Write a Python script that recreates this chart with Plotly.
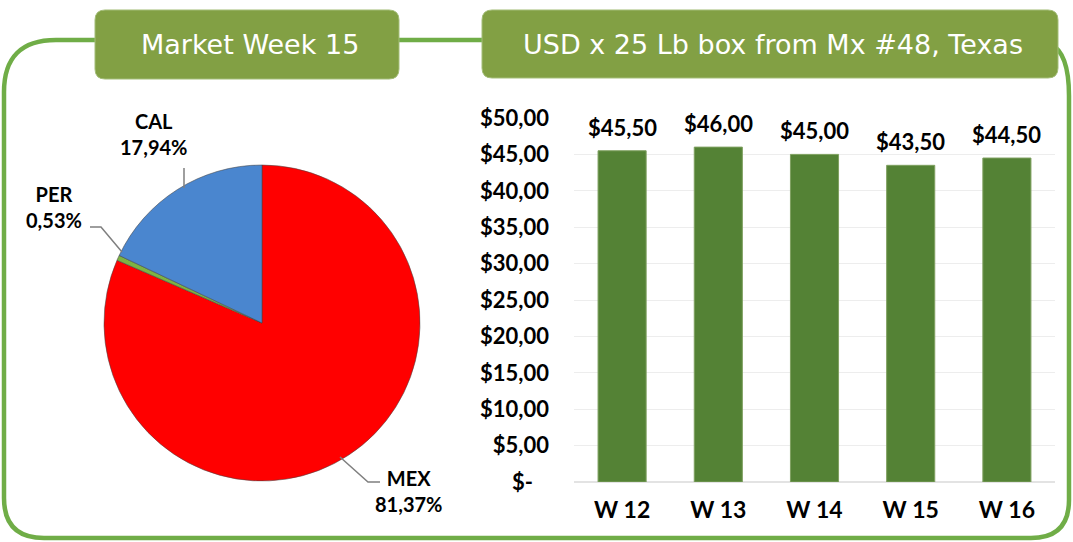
import plotly.graph_objects as go

# ---------------- data ----------------
pie_labels = ["MEX", "PER", "CAL"]
pie_values = [81.37, 0.53, 17.94]
pie_colors = ["#FF0000", "#7DB343", "#4A86CF"]

weeks = ["W 12", "W 13", "W 14", "W 15", "W 16"]
prices = [45.50, 46.00, 45.00, 43.50, 44.50]

y_tickvals = [0, 5, 10, 15, 20, 25, 30, 35, 40, 45, 50]

title_left = "Market Week 15"
title_right = "USD x 25 Lb box from Mx #48, Texas"


def money(v):
    return ("$%.2f" % v).replace(".", ",")


y_ticktext = ["$-\u00a0\u00a0\u00a0"] + [money(v) for v in y_tickvals[1:]]

# ---------------- helpers (pixel -> paper) ----------------
W, H = 1073, 542


def X(x):
    return x / W


def Y(y):
    return 1 - y / H


def P(x, y):
    return "%.5f,%.5f" % (X(x), Y(y))


def rounded_rect(x0, y0, x1, y1, r):
    return ("M " + P(x0 + r, y0) + " L " + P(x1 - r, y0) +
            " Q " + P(x1, y0) + " " + P(x1, y0 + r) +
            " L " + P(x1, y1 - r) +
            " Q " + P(x1, y1) + " " + P(x1 - r, y1) +
            " L " + P(x0 + r, y1) +
            " Q " + P(x0, y1) + " " + P(x0, y1 - r) +
            " L " + P(x0, y0 + r) +
            " Q " + P(x0, y0) + " " + P(x0 + r, y0) + " Z")


GREEN = "#70AD47"
BOX = "#82A044"
FONT = "Lato"

fig = go.Figure()

# ---------------- pie ----------------
fig.add_trace(go.Pie(
    labels=pie_labels,
    values=pie_values,
    sort=False,
    direction="clockwise",
    rotation=0,
    marker=dict(colors=pie_colors, line=dict(color="rgba(70,70,70,0.55)", width=1)),
    textinfo="none",
    hoverinfo="label+percent",
    showlegend=False,
    automargin=False,
    domain=dict(x=[X(104), X(420)], y=[Y(481), Y(165)]),
))

# ---------------- bars ----------------
fig.add_trace(go.Bar(
    x=weeks,
    y=prices,
    marker=dict(color="#548235", line=dict(color="#7FA060", width=1)),
    showlegend=False,
    xaxis="x",
    yaxis="y",
))

annotations = []
for w, v in zip(weeks, prices):
    annotations.append(dict(
        x=w, y=v, xref="x", yref="y", text=money(v), showarrow=False,
        xanchor="center", yanchor="bottom", yshift=8,
        font=dict(family=FONT, size=22, color="#000000", weight="bold"),
    ))

# pie labels
pie_label_pos = {"CAL": (153, 134), "PER": (54, 207), "MEX": (408, 491)}
for lab, val in zip(pie_labels, pie_values):
    lx, ly = pie_label_pos[lab]
    annotations.append(dict(
        x=X(lx), y=Y(ly), xref="paper", yref="paper",
        text="%s<br>%s" % (lab, ("%.2f%%" % val).replace(".", ",")),
        showarrow=False, xanchor="center", yanchor="middle",
        font=dict(family=FONT, size=20, color="#000000", weight="bold"),
    ))

# title texts
annotations.append(dict(x=X(250), y=Y(44), xref="paper", yref="paper", text=title_left,
                        showarrow=False, xanchor="center", yanchor="middle",
                        font=dict(family="DejaVu Sans", size=27, color="white")))
annotations.append(dict(x=X(773), y=Y(44), xref="paper", yref="paper", text=title_right,
                        showarrow=False, xanchor="center", yanchor="middle",
                        font=dict(family="DejaVu Sans", size=27, color="white")))

shapes = []
# outer frame
frame = ("M " + P(1050, 44) + " Q " + P(1069, 52) + " " + P(1069, 96) +
         " L " + P(1069, 500) + " Q " + P(1069, 538) + " " + P(1031, 538) +
         " L " + P(44, 538) + " Q " + P(4, 538) + " " + P(4, 498) +
         " L " + P(4, 92) + " Q " + P(4, 40) + " " + P(56, 40) +
         " L " + P(495, 40))
shapes.append(dict(type="path", path=frame, xref="paper", yref="paper",
                   line=dict(color=GREEN, width=4.5), layer="below"))
# title boxes
shapes.append(dict(type="path", path=rounded_rect(95, 10, 399, 79, 10), xref="paper", yref="paper",
                   fillcolor=BOX, line=dict(color="#A3BD78", width=1), layer="below"))
shapes.append(dict(type="path", path=rounded_rect(482, 10, 1058, 78, 10), xref="paper", yref="paper",
                   fillcolor=BOX, line=dict(color="#A3BD78", width=1), layer="below"))

# leader lines
for pts in ([(184, 168), (184, 188)],
            [(90, 227), (101, 227), (122, 252)],
            [(340, 457), (368, 482), (380, 482)]):
    path = "M " + " L ".join(P(a, b) for a, b in pts)
    shapes.append(dict(type="path", path=path, xref="paper", yref="paper",
                       line=dict(color="#7F7F7F", width=1.5)))

fig.update_layout(
    width=W, height=H,
    autosize=False,
    margin=dict(l=0, r=0, t=0, b=0, pad=0),
    paper_bgcolor="white",
    plot_bgcolor="white",
    separators=",.",
    bargap=0.5,
    xaxis=dict(domain=[X(574), X(1055)], showgrid=False, showline=False, zeroline=False,
               ticks="", ticklabelstandoff=12, automargin=False,
               tickfont=dict(family=FONT, size=23, color="#000000", weight="bold")),
    yaxis=dict(domain=[Y(482), Y(118)], range=[0, 50], tickvals=y_tickvals, ticktext=y_ticktext,
               showgrid=True, gridcolor="#EDEDED", gridwidth=1, zeroline=True,
               zerolinecolor="#E3E3E3", showline=False, ticks="", ticklabelstandoff=24,
               automargin=False,
               tickfont=dict(family=FONT, size=22, color="#000000", weight="bold")),
    annotations=annotations,
    shapes=shapes,
)

fig.write_html("out.html",
               config={"displayModeBar": False},
               post_script="document.body.style.margin='0';document.body.style.overflow='hidden';")
